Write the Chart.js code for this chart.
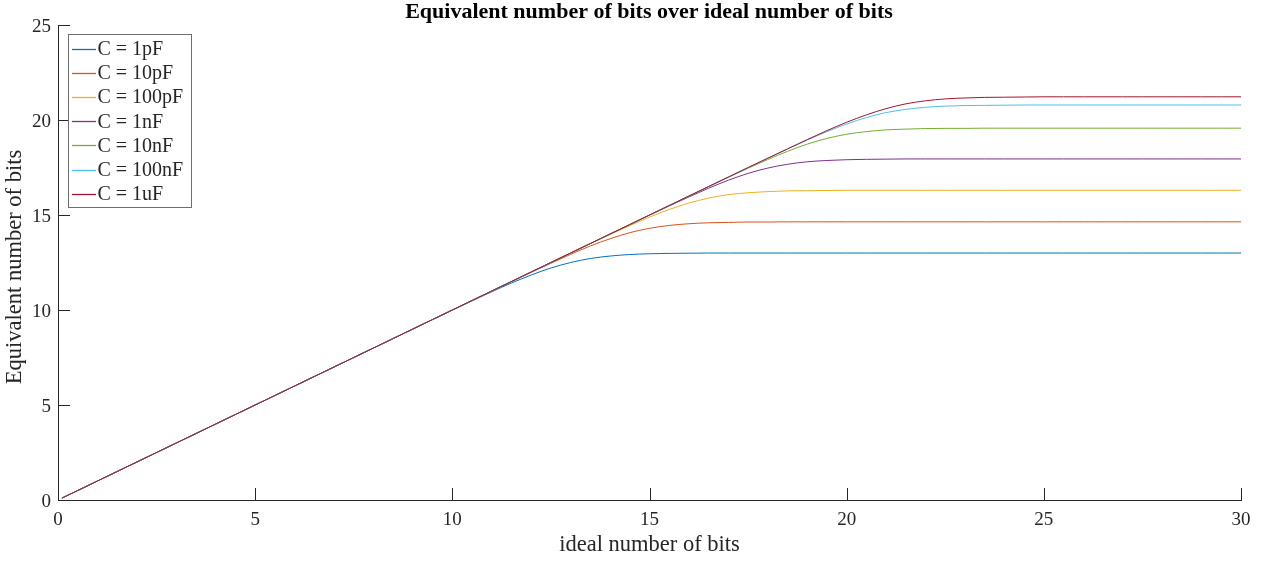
<!DOCTYPE html>
<html>
<head>
<meta charset="utf-8">
<script src="https://cdn.jsdelivr.net/npm/chart.js@4"></script>
<style>
  body { margin: 0; background: #fff; }
  #wrap { width: 1266px; height: 563px; }
</style>
</head>
<body>
<div id="wrap"><canvas id="enob"></canvas></div>
<script>
// ideal number of bits (x)
const xBits = [0.1, 0.5, 1, 1.5, 2, 2.5, 3, 3.5, 4, 4.5,
  5, 5.5, 6, 6.5, 7, 7.5, 8, 8.5, 9, 9.5,
  10, 10.5, 11, 11.5, 12, 12.5, 13, 13.5, 14, 14.5,
  15, 15.5, 16, 16.5, 17, 17.5, 18, 18.5, 19, 19.5,
  20, 20.5, 21, 21.5, 22, 22.5, 23, 23.5, 24, 24.5,
  25, 25.5, 26, 26.5, 27, 27.5, 28, 28.5, 29, 29.5, 30];

const labels = ['C = 1pF', 'C = 10pF', 'C = 100pF', 'C = 1nF', 'C = 10nF', 'C = 100nF', 'C = 1uF'];
const colors = ['#0072BD', '#D95319', '#EDB120', '#7E2F8E', '#77AC30', '#4DBEEE', '#A2142F'];

// equivalent number of bits, one list per capacitor
const enob1p = [0.1, 0.5, 1, 1.5, 2, 2.5, 3, 3.5, 4, 4.5,
  5, 5.5, 6, 6.5, 7, 7.5, 8, 8.5, 9, 9.5,
  9.99, 10.48, 10.96, 11.42, 11.84, 12.21, 12.5, 12.71, 12.84, 12.92,
  12.96, 12.98, 12.99, 13, 13, 13, 13, 13, 13, 13,
  13, 13, 13, 13, 13, 13, 13, 13, 13, 13,
  13, 13, 13, 13, 13, 13, 13, 13, 13, 13, 13];
const enob10p = [0.1, 0.5, 1, 1.5, 2, 2.5, 3, 3.5, 4, 4.5,
  5, 5.5, 6, 6.5, 7, 7.5, 8, 8.5, 9, 9.5,
  10, 10.5, 11, 11.49, 11.98, 12.46, 12.93, 13.37, 13.75, 14.07,
  14.30, 14.45, 14.54, 14.59, 14.61, 14.63, 14.63, 14.64, 14.64, 14.64,
  14.64, 14.64, 14.64, 14.64, 14.64, 14.64, 14.64, 14.64, 14.64, 14.64,
  14.64, 14.64, 14.64, 14.64, 14.64, 14.64, 14.64, 14.64, 14.64, 14.64, 14.64];
const enob100p = [0.1, 0.5, 1, 1.5, 2, 2.5, 3, 3.5, 4, 4.5,
  5, 5.5, 6, 6.5, 7, 7.5, 8, 8.5, 9, 9.5,
  10, 10.5, 11, 11.5, 12, 12.5, 12.99, 13.49, 13.97, 14.44,
  14.89, 15.29, 15.63, 15.89, 16.07, 16.17, 16.23, 16.27, 16.28, 16.29,
  16.3, 16.3, 16.3, 16.3, 16.3, 16.3, 16.3, 16.3, 16.3, 16.3,
  16.3, 16.3, 16.3, 16.3, 16.3, 16.3, 16.3, 16.3, 16.3, 16.3, 16.3];
const enob1n = [0.1, 0.5, 1, 1.5, 2, 2.5, 3, 3.5, 4, 4.5,
  5, 5.5, 6, 6.5, 7, 7.5, 8, 8.5, 9, 9.5,
  10, 10.5, 11, 11.5, 12, 12.5, 13, 13.5, 14, 14.49,
  14.99, 15.48, 15.95, 16.41, 16.83, 17.19, 17.47, 17.67, 17.80, 17.87,
  17.91, 17.93, 17.94, 17.95, 17.95, 17.95, 17.95, 17.95, 17.95, 17.95,
  17.95, 17.95, 17.95, 17.95, 17.95, 17.95, 17.95, 17.95, 17.95, 17.95, 17.95];
const enob10n = [0.1, 0.5, 1, 1.5, 2, 2.5, 3, 3.5, 4, 4.5,
  5, 5.5, 6, 6.5, 7, 7.5, 8, 8.5, 9, 9.5,
  10, 10.5, 11, 11.5, 12, 12.5, 13, 13.5, 14, 14.5,
  15, 15.5, 15.99, 16.49, 16.98, 17.46, 17.92, 18.35, 18.73, 19.03,
  19.25, 19.39, 19.48, 19.52, 19.55, 19.56, 19.56, 19.57, 19.57, 19.57,
  19.57, 19.57, 19.57, 19.57, 19.57, 19.57, 19.57, 19.57, 19.57, 19.57, 19.57];
const enob100n = [0.1, 0.5, 1, 1.5, 2, 2.5, 3, 3.5, 4, 4.5,
  5, 5.5, 6, 6.5, 7, 7.5, 8, 8.5, 9, 9.5,
  10, 10.5, 11, 11.5, 12, 12.5, 13, 13.5, 14, 14.5,
  15, 15.5, 16, 16.5, 17, 17.49, 17.99, 18.47, 18.94, 19.39,
  19.79, 20.13, 20.39, 20.56, 20.67, 20.73, 20.76, 20.77, 20.78, 20.79,
  20.79, 20.79, 20.79, 20.79, 20.79, 20.79, 20.79, 20.79, 20.79, 20.79, 20.79];
const enob1u = [0.1, 0.5, 1, 1.5, 2, 2.5, 3, 3.5, 4, 4.5,
  5, 5.5, 6, 6.5, 7, 7.5, 8, 8.5, 9, 9.5,
  10, 10.5, 11, 11.5, 12, 12.5, 13, 13.5, 14, 14.5,
  15, 15.5, 16, 16.5, 17, 17.5, 17.99, 18.48, 18.97, 19.44,
  19.88, 20.27, 20.60, 20.85, 21.01, 21.11, 21.16, 21.19, 21.20, 21.21,
  21.22, 21.22, 21.22, 21.22, 21.22, 21.22, 21.22, 21.22, 21.22, 21.22, 21.22];

const series = [enob1p, enob10p, enob100p, enob1n, enob10n, enob100n, enob1u];

const xTicks = [0, 5, 10, 15, 20, 25, 30];
const yTicks = [0, 5, 10, 15, 20, 25];

const axisColor = '#262626';
const serif = "'Liberation Serif', 'Times New Roman', serif";

// matlab style decorations: inward ticks, tick labels, titles, boxed legend
const matlabDeco = {
  id: 'matlabDeco',
  afterDraw(chart) {
    const ctx = chart.ctx;
    const area = chart.chartArea;
    const xs = chart.scales.x, ys = chart.scales.y;
    ctx.save();
    ctx.strokeStyle = axisColor;
    ctx.lineWidth = 1;
    ctx.beginPath();
    xTicks.forEach(v => {
      const px = Math.round(xs.getPixelForValue(v)) + 0.5;
      ctx.moveTo(px, area.bottom);
      ctx.lineTo(px, area.bottom - 12);
    });
    yTicks.forEach(v => {
      const py = Math.round(ys.getPixelForValue(v)) + 0.5;
      ctx.moveTo(area.left, py);
      ctx.lineTo(area.left + 12, py);
    });
    ctx.stroke();

    // tick labels
    ctx.fillStyle = axisColor;
    ctx.font = '19px ' + serif;
    ctx.textBaseline = 'alphabetic';
    ctx.textAlign = 'center';
    xTicks.forEach(v => ctx.fillText(String(v), xs.getPixelForValue(v), 525));
    ctx.textAlign = 'right';
    yTicks.forEach(v => ctx.fillText(String(v), 51, ys.getPixelForValue(v) + 6.6));

    // title
    ctx.fillStyle = '#000';
    ctx.font = 'bold 22px ' + serif;
    ctx.textAlign = 'center';
    ctx.fillText('Equivalent number of bits over ideal number of bits', 649, 18);

    // axis titles
    ctx.fillStyle = axisColor;
    ctx.font = '22.5px ' + serif;
    ctx.fillText('ideal number of bits', 649.5, 551);
    ctx.save();
    ctx.translate(21, 267);
    ctx.rotate(-Math.PI / 2);
    ctx.fillText('Equivalent number of bits', 0, 0);
    ctx.restore();

    // legend
    const lx = 68.5, ly = 34.5, lw = 123, lh = 173;
    ctx.fillStyle = '#fff';
    ctx.fillRect(lx, ly, lw, lh);
    ctx.strokeStyle = '#6e6e6e';
    ctx.strokeRect(lx, ly, lw, lh);
    ctx.font = '20px ' + serif;
    ctx.textAlign = 'left';
    ctx.textBaseline = 'alphabetic';
    chart.data.datasets.forEach((ds, i) => {
      const cy = 48.5 + i * 24.2;
      ctx.strokeStyle = ds.borderColor;
      ctx.lineWidth = 1.3;
      ctx.beginPath();
      ctx.moveTo(72, Math.round(cy) + 0.5);
      ctx.lineTo(96, Math.round(cy) + 0.5);
      ctx.stroke();
      ctx.fillStyle = axisColor;
      ctx.fillText(ds.label, 97.5, cy + 6.5);
    });
    ctx.restore();
  }
};

new Chart(document.getElementById('enob'), {
  type: 'line',
  data: {
    datasets: series.map((s, i) => ({
      label: labels[i],
      data: xBits.map((x, j) => ({ x: x, y: s[j] })),
      borderColor: colors[i],
      backgroundColor: colors[i],
      borderWidth: 1,
      pointRadius: 0,
      cubicInterpolationMode: 'monotone',
      order: series.length - 1 - i
    }))
  },
  options: {
    responsive: true,
    maintainAspectRatio: false,
    animation: false,
    layout: { padding: { top: 25, right: 25, left: 0, bottom: 0 } },
    plugins: {
      legend: { display: false },
      title: { display: false },
      tooltip: { enabled: false }
    },
    scales: {
      x: {
        type: 'linear',
        min: 0,
        max: 30,
        afterFit: s => { s.height = 63; },
        grid: { display: false, drawTicks: false },
        border: { display: true, color: axisColor, width: 1 },
        ticks: { display: false }
      },
      y: {
        type: 'linear',
        min: 0,
        max: 25,
        afterFit: s => { s.width = 58; },
        grid: { display: false, drawTicks: false },
        border: { display: true, color: axisColor, width: 1 },
        ticks: { display: false }
      }
    }
  },
  plugins: [matlabDeco]
});
</script>
</body>
</html>
